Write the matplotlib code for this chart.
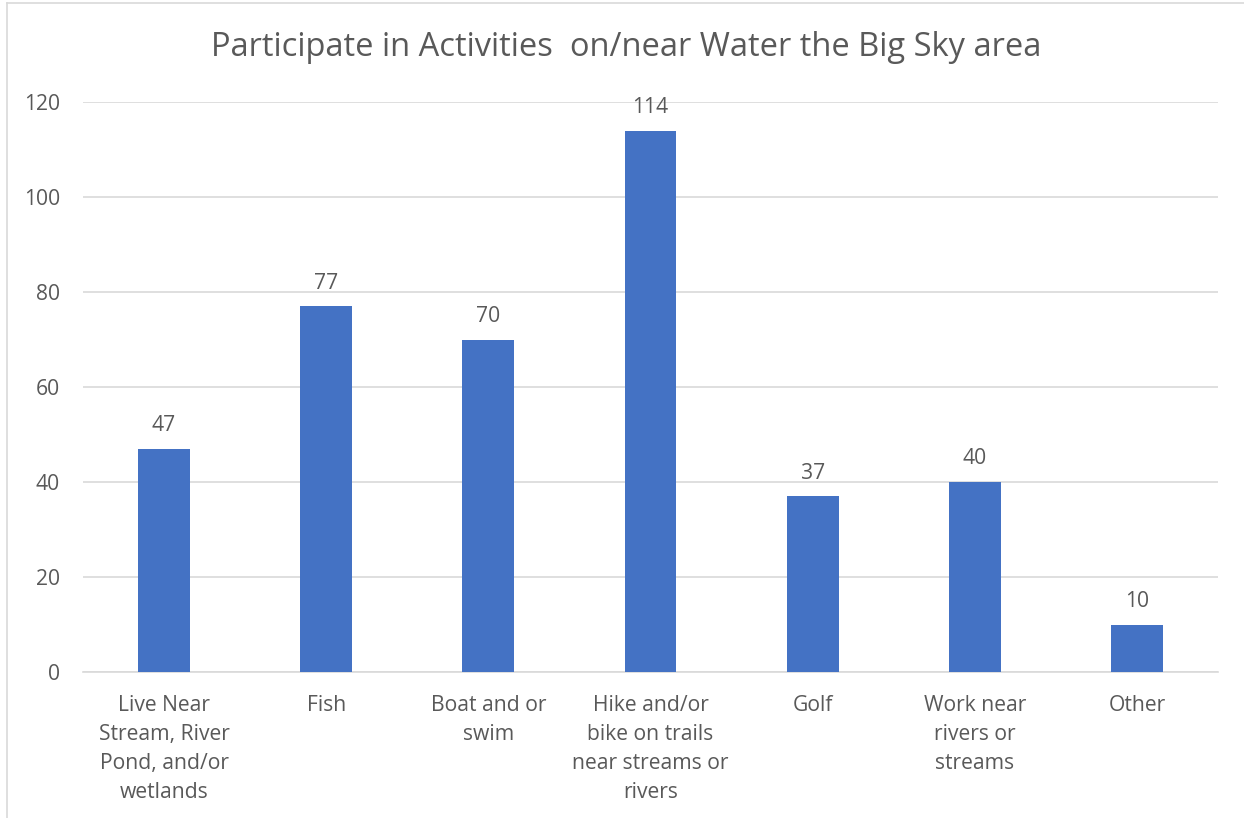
import matplotlib
matplotlib.use("Agg")
import matplotlib.pyplot as plt
from matplotlib.lines import Line2D

categories = [
    "Live Near\nStream, River\nPond, and/or\nwetlands",
    "Fish",
    "Boat and or\nswim",
    "Hike and/or\nbike on trails\nnear streams or\nrivers",
    "Golf",
    "Work near\nrivers or\nstreams",
    "Other",
]
values = [47, 77, 70, 114, 37, 40, 10]
yticks = [0, 20, 40, 60, 80, 100, 120]
title = "Participate in Activities  on/near Water the Big Sky area"

plt.rcParams["font.family"] = ["Open Sans", "DejaVu Sans"]
text_color = "#595959"
bar_color = "#4472C4"
grid_color = "#D9D9D9"

fig = plt.figure(figsize=(12.44, 8.18), dpi=100)
ax = fig.add_axes([83/1244, 1-672/818, (1218-83)/1244, (672-102)/818])

x = list(range(len(categories)))
bars = ax.bar(x, values, width=0.32, color=bar_color, zorder=3)
ax.set_xlim(-0.5, len(categories)-0.5)
ax.set_ylim(0, 120)
ax.set_yticks(yticks)
ax.set_yticklabels([str(t) for t in yticks], fontsize=15.2, color=text_color)
ax.set_xticks(x)
ax.set_xticklabels(categories, fontsize=15.2, color=text_color, linespacing=1.50, va="top")
ax.tick_params(axis="both", length=0)
ax.tick_params(axis="y", pad=16.5)
ax.tick_params(axis="x", pad=16.5)
ax.yaxis.grid(True, color=grid_color, linewidth=1.2, zorder=0)
for s in ["top", "right", "left"]:
    ax.spines[s].set_visible(False)
ax.spines["bottom"].set_color(grid_color)
ax.spines["bottom"].set_linewidth(1.2)

for xi, v in zip(x, values):
    ax.annotate(str(v), (xi, v), xytext=(0, 9), textcoords="offset points",
                ha="center", va="bottom", fontsize=15.2, color=text_color)

fig.text(626/1244, 1-48/818, title, ha="center", va="center", fontsize=23.5, color=text_color)

# outer chart border (left and top visible)
fig.add_artist(Line2D([7/1244, 7/1244], [0, 1-3/818], transform=fig.transFigure, color="#D9D9D9", linewidth=1.2))
fig.add_artist(Line2D([7/1244, 1], [1-3/818, 1-3/818], transform=fig.transFigure, color="#D9D9D9", linewidth=1.2))

fig.savefig("out.png", dpi=100)
